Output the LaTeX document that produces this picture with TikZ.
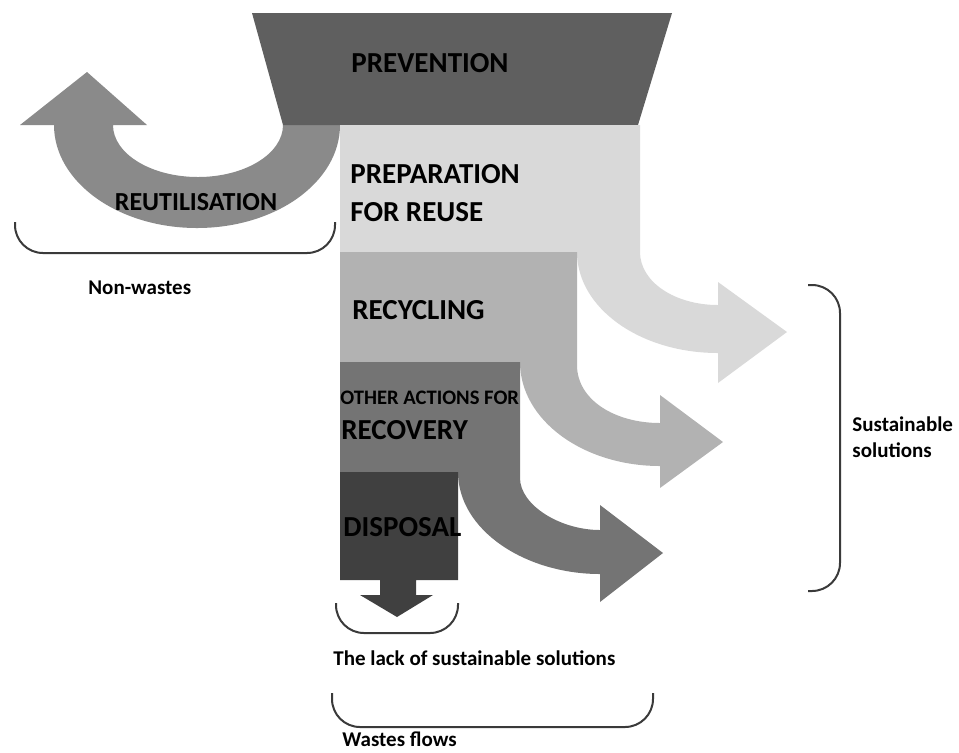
\documentclass[tikz,border=0pt]{standalone}
\usepackage{fontspec}
\setmainfont{Carlito}
\definecolor{cprev}{HTML}{5F5F5F}
\definecolor{cprep}{HTML}{D9D9D9}
\definecolor{crecyc}{HTML}{B2B2B2}
\definecolor{crecov}{HTML}{747474}
\definecolor{cdisp}{HTML}{404040}
\definecolor{creut}{HTML}{8A8A8A}
\definecolor{cbrk}{HTML}{3A3A3A}
\begin{document}
\begin{tikzpicture}[x=0.5pt,y=-0.5pt,
big/.style={font=\bfseries\fontsize{14.5}{17}\selectfont,anchor=west,inner sep=0pt},
small/.style={font=\bfseries\fontsize{10.5}{13}\selectfont,anchor=west,inner sep=0pt,align=left},
brk/.style={draw=cbrk,line width=1pt,rounded corners=14pt},
]
\useasboundingbox(0,0)rectangle(959,752);
%Reutilisation arrow
\fill[creut](340,125)arc[start angle=0,end angle=180,x radius=143,y radius=103]
--(20,125)--(87,72)--(147,125)--(113,125)
arc[start angle=180,end angle=0,x radius=85,y radius=52]--cycle;
%Prevention
\fill[cprev](252,13)--(672,13)--(638,125)--(283,125)--cycle;
%Preparation for reuse
\fill[cprep](340,125)--(640,125)--(640,252)
..controls(640,282)and(675,305)..(718,305)--(718,282)--(787,332)--(718,383)--(718,353)
..controls(640,353)and(577,308)..(577,252)--(340,252)--cycle;
%Recycling
\fill[crecyc](340,252)--(577,252)--(577,365)
..controls(577,400)and(615,423)..(660,423)--(660,395)--(723,442)--(660,488)--(660,466)
..controls(583,466)and(520,420)..(520,362)--(340,362)--cycle;
%Other actions for recovery
\fill[crecov](340,362)--(520,362)--(520,478)
..controls(520,505)and(560,530)..(600,530)--(600,505)--(663,553)--(600,602)--(600,574)
..controls(525,574)and(458,530)..(458,472)--(340,472)--cycle;
%Disposal
\fill[cdisp](340,472)--(458,472)--(458,580)--(416,580)--(416,595)--(433,595)
--(397,617)--(360,595)--(380,595)--(380,580)--(340,580)--cycle;
%Labels
\node[big,anchor=center](prev)at(430,63){PREVENTION};
\node[big,align=left](prep)at(350,193){PREPARATION\\[2pt]FOR REUSE};
\node[big](recyc)at(352,310){RECYCLING};
\node[small,font=\bfseries\fontsize{10.3}{12}\selectfont](other)at(340,398){OTHER ACTIONS FOR};
\node[big](recov)at(341,430){RECOVERY};
\node[big](disp)at(343,527){DISPOSAL};
\node[big,anchor=center,font=\bfseries\fontsize{13}{15}\selectfont](reut)at(196,202){REUTILISATION};
%Brackets
\draw[brk](15,222)--(15,253)--(335,253)--(335,222);
\node[small](nonw)at(88,288){Non-wastes};
\draw[brk](808,285)--(840,285)--(840,591)--(808,591);
\node[small](sust)at(852,437){Sustainable\\solutions};
\draw[brk](336,603)--(336,633)--(458,633)--(458,603);
\node[small](lack)at(333,658){The lack of sustainable solutions};
\draw[brk](332,693)--(332,727)--(653,727)--(653,693);
\node[small](wflow)at(342,739){Wastes flows};
\end{tikzpicture}
\end{document}
